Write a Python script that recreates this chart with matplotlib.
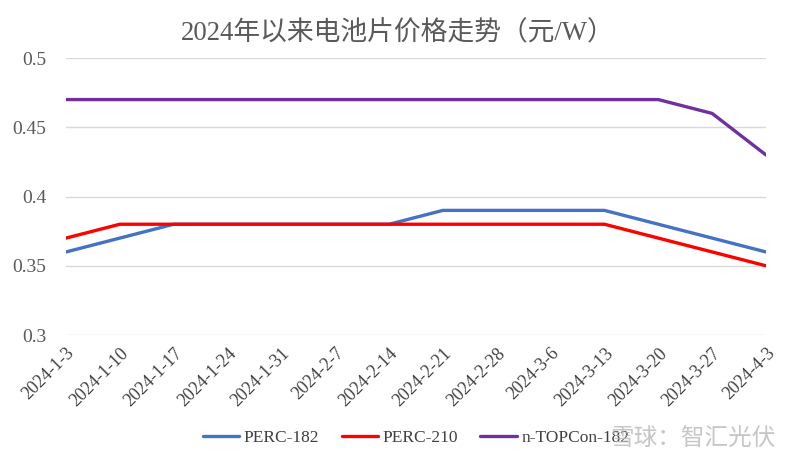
import numpy as np
import matplotlib
matplotlib.use("Agg")
import matplotlib.pyplot as plt

plt.rcParams['font.family'] = ['Liberation Serif', 'Noto Sans CJK SC']

dates = ['2024-1-3', '2024-1-10', '2024-1-17', '2024-1-24', '2024-1-31', '2024-2-7',
         '2024-2-14', '2024-2-21', '2024-2-28', '2024-3-6', '2024-3-13', '2024-3-20',
         '2024-3-27', '2024-4-3']
perc_182 = [0.36, 0.37, 0.38, 0.38, 0.38, 0.38, 0.38, 0.39, 0.39, 0.39, 0.39, 0.38, 0.37, 0.36]
perc_210 = [0.37, 0.38, 0.38, 0.38, 0.38, 0.38, 0.38, 0.38, 0.38, 0.38, 0.38, 0.37, 0.36, 0.35]
topcon_182 = [0.47, 0.47, 0.47, 0.47, 0.47, 0.47, 0.47, 0.47, 0.47, 0.47, 0.47, 0.47, 0.46, 0.43]
y_ticks = [0.3, 0.35, 0.4, 0.45, 0.5]
y_labels = ['0.3', '0.35', '0.4', '0.45', '0.5']

fig = plt.figure(figsize=(8, 4.66), dpi=100)
ax = fig.add_axes([0.0825, 0.281, 0.875, 0.5945])

x = np.arange(len(dates))
ax.plot(x, perc_182, color='#4472C4', lw=2.4, label='PERC-182', solid_capstyle='round', zorder=3)
ax.plot(x, perc_210, color='#FF0000', lw=2.4, label='PERC-210', solid_capstyle='round', zorder=3)
ax.plot(x, topcon_182, color='#7030A0', lw=2.4, label='n-TOPCon-182', solid_capstyle='round', zorder=3)

ax.set_xlim(0, len(dates) - 1)
ax.set_ylim(0.3, 0.5)
ax.set_yticks(y_ticks)
ax.set_yticklabels(y_labels, fontsize=14, color='#595959')
ax.set_xticks(x)
ax.set_xticklabels(dates, rotation=45, ha='right', rotation_mode='anchor',
                   fontsize=13, color='#404040')
ax.tick_params(length=0)
ax.tick_params(axis='y', pad=14)
ax.tick_params(axis='x', pad=7)
ax.grid(axis='y', color='#D9D9D9', lw=1)
ax.set_axisbelow(True)
for s in ax.spines.values():
    s.set_visible(False)

fig.text(0.497, 0.928, '2024年以来电池片价格走势（元/W）', ha='center', va='center',
         fontsize=19.3, color='#595959')

ax.legend(loc='center', bbox_to_anchor=(0.52, 0.06), bbox_transform=fig.transFigure,
          ncol=3, frameon=False, fontsize=12.5, handlelength=2.1, columnspacing=1.3,
          handletextpad=0.25, labelcolor='#404040')

# watermark
fig.text(0.97, 0.058, '雪球：智汇光伏', ha='right', va='center', fontsize=17,
         color='#B8B8B8', alpha=0.8, family=['Noto Sans CJK SC'])

fig.savefig('out.png', dpi=100)
